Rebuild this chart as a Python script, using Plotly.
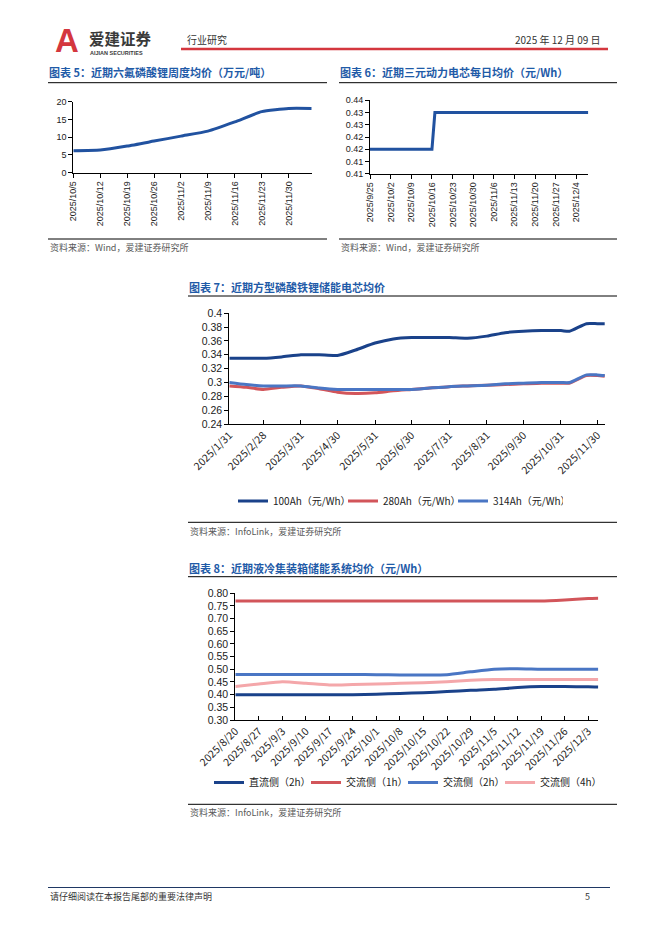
import plotly.graph_objects as go

W, H = 662, 936
def fx(x): return x / W
def fy(y): return 1 - y / H

# ---------------- data ----------------
# Chart 5: 六氟磷酸锂周度均价（万元/吨）
c5_dates = ['2025-10-05', '2025-10-12', '2025-10-19', '2025-10-26', '2025-11-02',
            '2025-11-09', '2025-11-16', '2025-11-23', '2025-11-30', '2025-12-06']
c5_values = [6.2, 6.4, 7.5, 8.9, 10.3, 11.7, 14.3, 17.2, 18.1, 18.1]
c5_ticks = ['2025-10-05', '2025-10-12', '2025-10-19', '2025-10-26', '2025-11-02',
            '2025-11-09', '2025-11-16', '2025-11-23', '2025-11-30']
c5_ticktext = ['2025/10/5', '2025/10/12', '2025/10/19', '2025/10/26', '2025/11/2',
               '2025/11/9', '2025/11/16', '2025/11/23', '2025/11/30']

# Chart 6: 三元动力电芯每日均价（元/Wh）
c6_dates = ['2025-09-25', '2025-10-16', '2025-10-17', '2025-12-08']
c6_values = [0.42, 0.42, 0.435, 0.435]
c6_ticks = ['2025-09-25', '2025-10-02', '2025-10-09', '2025-10-16', '2025-10-23', '2025-10-30',
            '2025-11-06', '2025-11-13', '2025-11-20', '2025-11-27', '2025-12-04']
c6_ticktext = ['2025/9/25', '2025/10/2', '2025/10/9', '2025/10/16', '2025/10/23', '2025/10/30',
               '2025/11/6', '2025/11/13', '2025/11/20', '2025/11/27', '2025/12/4']
c6_yticks = [0.41, 0.415, 0.42, 0.425, 0.43, 0.435, 0.44]
c6_yticktext = ['0.41', '0.41', '0.42', '0.42', '0.43', '0.43', '0.44']

# Chart 7: 方型磷酸铁锂储能电芯均价
c7_dates = ['2025-01-31', '2025-02-14', '2025-02-28', '2025-03-15', '2025-03-31', '2025-04-15',
            '2025-04-30', '2025-05-15', '2025-05-31', '2025-06-15', '2025-06-30', '2025-07-15',
            '2025-07-31', '2025-08-15', '2025-08-31', '2025-09-15', '2025-09-30', '2025-10-15',
            '2025-10-31', '2025-11-07', '2025-11-21', '2025-11-30', '2025-12-06']
c7_100ah = [0.335, 0.335, 0.335, 0.337, 0.340, 0.340, 0.339, 0.347, 0.357, 0.363, 0.365, 0.365,
            0.365, 0.364, 0.367, 0.372, 0.374, 0.375, 0.375, 0.374, 0.385, 0.385, 0.385]
c7_280ah = [0.295, 0.293, 0.290, 0.293, 0.295, 0.291, 0.286, 0.284, 0.285, 0.288, 0.290, 0.292,
            0.294, 0.295, 0.296, 0.297, 0.298, 0.299, 0.299, 0.299, 0.310, 0.310, 0.309]
c7_314ah = [0.300, 0.297, 0.295, 0.295, 0.295, 0.292, 0.290, 0.290, 0.290, 0.290, 0.290, 0.292,
            0.294, 0.295, 0.296, 0.298, 0.299, 0.300, 0.300, 0.300, 0.311, 0.311, 0.310]
c7_ticks = ['2025-01-31', '2025-02-28', '2025-03-31', '2025-04-30', '2025-05-31', '2025-06-30',
            '2025-07-31', '2025-08-31', '2025-09-30', '2025-10-31', '2025-11-30']
c7_ticktext = ['2025/1/31', '2025/2/28', '2025/3/31', '2025/4/30', '2025/5/31', '2025/6/30',
               '2025/7/31', '2025/8/31', '2025/9/30', '2025/10/31', '2025/11/30']
c7_names = ['100Ah（元/Wh）', '280Ah（元/Wh）', '314Ah（元/Wh）']

# Chart 8: 液冷集装箱储能系统均价（元/Wh）
c8_dates = ['2025-08-20', '2025-08-27', '2025-09-03', '2025-09-10', '2025-09-17', '2025-09-24',
            '2025-10-01', '2025-10-08', '2025-10-15', '2025-10-22', '2025-10-29', '2025-11-05',
            '2025-11-12', '2025-11-19', '2025-11-26', '2025-12-03', '2025-12-06']
c8_dc2h = [0.40, 0.40, 0.40, 0.40, 0.40, 0.40, 0.402, 0.405, 0.408, 0.412, 0.417, 0.421,
           0.428, 0.432, 0.432, 0.431, 0.430]
c8_ac1h = [0.77, 0.77, 0.77, 0.77, 0.77, 0.77, 0.77, 0.77, 0.77, 0.77, 0.77, 0.77,
           0.77, 0.77, 0.774, 0.779, 0.78]
c8_ac2h = [0.48, 0.48, 0.48, 0.48, 0.48, 0.48, 0.479, 0.478, 0.478, 0.479, 0.49, 0.50,
           0.502, 0.50, 0.50, 0.50, 0.50]
c8_ac4h = [0.432, 0.442, 0.451, 0.445, 0.438, 0.44, 0.442, 0.445, 0.447, 0.451, 0.457, 0.46,
           0.46, 0.46, 0.46, 0.46, 0.46]
c8_ticks = c8_dates[:16]
c8_ticktext = ['2025/8/20', '2025/8/27', '2025/9/3', '2025/9/10', '2025/9/17', '2025/9/24',
               '2025/10/1', '2025/10/8', '2025/10/15', '2025/10/22', '2025/10/29', '2025/11/5',
               '2025/11/12', '2025/11/19', '2025/11/26', '2025/12/3']
c8_names = ['直流侧（2h）', '交流侧（1h）', '交流侧（2h）', '交流侧（4h）']

# ---------------- styles ----------------
CJK = 'Noto Sans CJK SC'
ARIAL = 'Liberation Sans'
TITLE_C = '#1F5BA8'
LINE56 = '#2152A0'
DARK = '#1A428A'
RED = '#D2555A'
BLUE = '#4A76C4'
PINK = '#F4A7AA'

fig = go.Figure()

fig.add_trace(go.Scatter(x=c5_dates, y=c5_values, mode='lines', xaxis='x', yaxis='y',
                         line=dict(color=LINE56, width=3, shape='spline', smoothing=0.5),
                         showlegend=False))
fig.add_trace(go.Scatter(x=c6_dates, y=c6_values, mode='lines', xaxis='x2', yaxis='y2',
                         line=dict(color=LINE56, width=3), showlegend=False))
for vals, col, nm in zip([c7_100ah, c7_280ah, c7_314ah], [DARK, RED, BLUE], c7_names):
    fig.add_trace(go.Scatter(x=c7_dates, y=vals, mode='lines', xaxis='x3', yaxis='y3', name=nm,
                             line=dict(color=col, width=3, shape='spline', smoothing=0.6),
                             legend='legend'))
for vals, col, nm in zip([c8_dc2h, c8_ac1h, c8_ac2h, c8_ac4h], [DARK, RED, BLUE, PINK], c8_names):
    fig.add_trace(go.Scatter(x=c8_dates, y=vals, mode='lines', xaxis='x4', yaxis='y4', name=nm,
                             line=dict(color=col, width=3, shape='spline', smoothing=0.6),
                             legend='legend2'))

def xax(domain, anchor, rng, tv, tt, angle, font, ticks):
    return dict(domain=[fx(domain[0]), fx(domain[1])], anchor=anchor, type='date', range=rng,
                tickvals=tv, ticktext=tt, tickangle=angle, ticks=ticks, ticklen=4,
                tickcolor='#000', showline=True, linecolor='#000', linewidth=1,
                showgrid=False, zeroline=False, tickfont=font, fixedrange=True, automargin=False)

def yax(domain, anchor, rng, font, **kw):
    d = dict(domain=[fy(domain[1]), fy(domain[0])], anchor=anchor, range=rng, ticks='outside',
             ticklen=4, tickcolor='#000', showline=True, linecolor='#000', linewidth=1,
             showgrid=False, zeroline=False, tickfont=font, fixedrange=True, automargin=False)
    d.update(kw)
    return d

f56 = dict(family=ARIAL, size=9, color='#222')
f78 = dict(family=CJK, size=10.5, color='#222')
f78y = dict(family=ARIAL, size=10.5, color='#222')

fig.update_layout(
    template='none',
    width=W, height=H, margin=dict(l=0, r=0, t=0, b=0, pad=0, autoexpand=False),
    paper_bgcolor='white', plot_bgcolor='white',
    xaxis=xax((73.3, 311.7), 'y', ['2025-10-05', '2025-12-06'], c5_ticks, c5_ticktext, -90, f56, 'outside'),
    yaxis=yax((101.7, 172.7), 'x', [0, 20], f56, dtick=5),
    xaxis2=xax((370, 588.3), 'y2', ['2025-09-25', '2025-12-08'], c6_ticks, c6_ticktext, -90, f56, 'outside'),
    yaxis2=yax((100.3, 173.7), 'x2', [0.41, 0.44], f56, tickvals=c6_yticks, ticktext=c6_yticktext),
    xaxis3=xax((229.3, 605), 'y3', ['2025-01-31', '2025-12-06 06:00'], c7_ticks, c7_ticktext, -45, f78, 'inside'),
    yaxis3=yax((313.3, 424), 'x3', [0.24, 0.40], f78y, dtick=0.02),
    xaxis4=xax((235.3, 598.3), 'y4', ['2025-08-20', '2025-12-06'], c8_ticks, c8_ticktext, -45, f78, 'inside'),
    yaxis4=yax((593.3, 720), 'x4', [0.30, 0.80], f78y, dtick=0.05, tickformat='.2f'),
    legend=dict(orientation='h', x=fx(233), xanchor='left', y=fy(501), yanchor='middle',
                font=dict(family=CJK, size=10, color='#222'), bgcolor='rgba(0,0,0,0)',
                itemwidth=30, tracegroupgap=0, entrywidth=65),
    legend2=dict(orientation='h', x=fx(209), xanchor='left', y=fy(782.5), yanchor='middle',
                 font=dict(family=CJK, size=10, color='#222'), bgcolor='rgba(0,0,0,0)',
                 itemwidth=30, tracegroupgap=0, entrywidth=52),
)

shapes = []
def hline(x0, x1, y, color='#000', width=1):
    shapes.append(dict(type='line', xref='paper', yref='paper', x0=fx(x0), x1=fx(x1),
                       y0=fy(y), y1=fy(y), line=dict(color=color, width=width)))

# header red rule
hline(181, 608, 49, '#D4373E', 2.5)
# chart 5/6 rules
hline(48, 327, 82.7); hline(48, 327, 239)
hline(339, 617, 82.7); hline(339, 617, 239)
# chart 7 rules
hline(188, 617, 296); hline(188, 617, 522.3)
# chart 8 rules
hline(188, 617, 576.7); hline(188, 617, 804.3)
# footer rule
hline(48, 610, 887.5, '#1F3864', 1.2)

ann = []
def text(x, y, s, size, color='#222', family=CJK, xanchor='left', bold=False):
    ann.append(dict(xref='paper', yref='paper', x=fx(x), y=fy(y), text=('<b>%s</b>' % s) if bold else s,
                    showarrow=False, xanchor=xanchor, yanchor='middle',
                    font=dict(family=family, size=size, color=color)))

# header
text(53, 41, 'A', 33, '#D4373E', ARIAL, bold=True)
text(87, 38.5, '爱建证券', 15.5, '#3A3A3A', CJK, bold=True)
text(88, 52.5, 'AIJIAN SECURITIES', 5.5, '#3A3A3A', ARIAL, bold=True)
text(185, 40, '行业研究', 10, '#333')
text(603, 40, '2025 年 12 月 09 日', 10, '#333', xanchor='right')

# titles
text(47, 72.3, '图表 5：近期六氟磷酸锂周度均价（万元/吨）', 11, TITLE_C, bold=True)
text(338, 72.3, '图表 6：近期三元动力电芯每日均价（元/Wh）', 11, TITLE_C, bold=True)
text(187, 286.5, '图表 7：近期方型磷酸铁锂储能电芯均价', 11, TITLE_C, bold=True)
text(187, 568.3, '图表 8：近期液冷集装箱储能系统均价（元/Wh）', 11, TITLE_C, bold=True)

# sources
text(48, 248, '资料来源：Wind，爱建证券研究所', 9, '#595959')
text(339, 248, '资料来源：Wind，爱建证券研究所', 9, '#595959')
text(188, 531, '资料来源：InfoLink，爱建证券研究所', 9, '#595959')
text(188, 812, '资料来源：InfoLink，爱建证券研究所', 9, '#595959')

# footer
text(48, 896, '请仔细阅读在本报告尾部的重要法律声明', 9, '#333')
text(592, 896, '5', 9, '#333', xanchor='right')

fig.update_layout(shapes=shapes, annotations=ann)
fig.write_html('out.html', config={'displayModeBar': False, 'staticPlot': True},
               post_script="document.body.style.margin='0px';"
                           "document.documentElement.style.overflow='hidden';")
